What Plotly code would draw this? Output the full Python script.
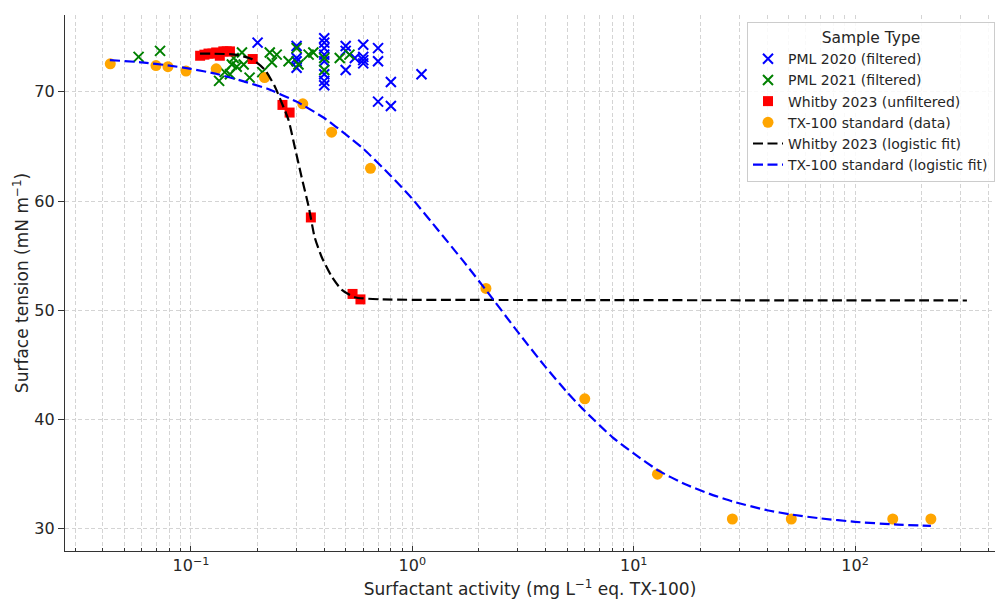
import plotly.graph_objects as go

# ---------------- data ----------------
pml2020_x = [0.2, 0.3, 0.3, 0.3, 0.3, 0.4, 0.4, 0.4, 0.4, 0.4, 0.4, 0.4, 0.4,
             0.5, 0.5, 0.5, 0.55, 0.6, 0.6, 0.6, 0.6, 0.7, 0.7, 0.7, 0.8, 0.8, 1.1]
pml2020_y = [74.5, 74.2, 73.1, 72.8, 72.2, 74.9, 74.5, 74.0, 73.4, 72.8, 71.6, 71.0, 70.6,
             74.2, 73.75, 72.0, 73.1, 74.3, 73.2, 72.9, 72.6, 74.0, 72.8, 69.1, 70.9, 68.7, 71.6]

pml2021_x = [0.058, 0.0725, 0.134, 0.142, 0.150, 0.153, 0.156, 0.161, 0.170, 0.173,
             0.184, 0.21, 0.227, 0.232, 0.244, 0.276, 0.30, 0.306, 0.34, 0.357,
             0.40, 0.40, 0.47, 0.52]
pml2021_y = [73.2, 73.75, 71.0, 71.8, 71.6, 72.5, 73.1, 72.3, 73.6, 72.5,
             71.3, 71.8, 73.6, 72.7, 73.4, 72.8, 74.0, 72.5, 73.4, 73.6,
             73.1, 72.0, 73.1, 73.4]

whitby_x = [0.110, 0.115, 0.120, 0.125, 0.130, 0.135, 0.140, 0.145, 0.150,
            0.19, 0.259, 0.279, 0.348, 0.537, 0.583]
whitby_y = [73.3, 73.4, 73.5, 73.5, 73.6, 73.3, 73.7, 73.7, 73.7,
            73.0, 68.8, 68.1, 58.5, 51.5, 51.0]

tx_x = [0.0432, 0.0695, 0.0787, 0.095, 0.130, 0.215, 0.32, 0.432, 0.647,
        2.15, 6.01, 12.8, 27.9, 51.5, 148, 220]
tx_y = [72.56, 72.4, 72.3, 71.9, 72.1, 71.3, 68.9, 66.3, 63.0,
        52.0, 41.9, 35.0, 30.9, 30.9, 30.9, 30.9]

whitby_fit_x = [0.1098, 0.158, 0.188, 0.216, 0.239, 0.257, 0.276, 0.294, 0.316,
                0.340, 0.362, 0.389, 0.432, 0.479, 0.548, 0.725, 2.0, 320]
whitby_fit_y = [73.5, 73.4, 73.0, 72.0, 70.5, 69.0, 67.4, 65.0, 62.2,
                59.5, 56.7, 54.9, 53.1, 51.9, 51.2, 51.0, 50.95, 50.9]

tx_fit_x = [0.043, 0.06, 0.08, 0.1, 0.13, 0.17, 0.22, 0.3, 0.4, 0.5, 0.6, 0.8,
            1.0, 1.3, 1.7, 2.2, 3.0, 4.0, 5.0, 6.0, 8.0, 10, 13, 17, 22, 28,
            40, 52, 70, 100, 150, 220]
tx_fit_y = [72.9, 72.7, 72.4, 72.1, 71.65, 71.0, 70.3, 69.1, 67.6, 66.1, 64.8, 62.3,
            60.2, 57.4, 54.5, 51.6, 48.0, 44.8, 42.5, 40.8, 38.4, 36.9, 35.3, 34.1, 33.2, 32.5,
            31.7, 31.3, 30.95, 30.64, 30.4, 30.27]

x_tick_vals = [0.1, 1, 10, 100]
x_tick_text = ["10<sup>\u22121</sup>", "10<sup>0</sup>", "10<sup>1</sup>", "10<sup>2</sup>"]
y_tick_vals = [30, 40, 50, 60, 70]

# ---------------- figure ----------------
FONT = "DejaVu Sans"
TXT = "#262626"
fig = go.Figure()

fig.add_trace(go.Scatter(x=pml2020_x, y=pml2020_y, mode="markers", name="PML 2020 (filtered)",
                         legendgroup="a",
                         marker=dict(symbol="x-thin", size=10, color="#0000ff",
                                     line=dict(width=2, color="#0000ff"))))
fig.add_trace(go.Scatter(x=pml2021_x, y=pml2021_y, mode="markers", name="PML 2021 (filtered)",
                         legendgroup="b",
                         marker=dict(symbol="x-thin", size=10, color="#008000",
                                     line=dict(width=2, color="#008000"))))
fig.add_trace(go.Scatter(x=whitby_x, y=whitby_y, mode="markers", name="Whitby 2023 (unfiltered)",
                         legendgroup="c",
                         marker=dict(symbol="square", size=10, color="#ff0000",
                                     line=dict(width=0))))
fig.add_trace(go.Scatter(x=tx_x, y=tx_y, mode="markers", name="TX-100 standard (data)",
                         legendgroup="d",
                         marker=dict(symbol="circle", size=11, color="#ffa500",
                                     line=dict(width=0))))
fig.add_trace(go.Scatter(x=whitby_fit_x, y=whitby_fit_y, mode="lines", name="Whitby 2023 (logistic fit)",
                         legendgroup="e",
                         line=dict(color="#000000", width=2.2, dash="10px,4.5px", shape="spline",
                                   smoothing=0.6)))
fig.add_trace(go.Scatter(x=tx_fit_x, y=tx_fit_y, mode="lines", name="TX-100 standard (logistic fit)",
                         legendgroup="f",
                         line=dict(color="#0000ff", width=2.2, dash="10px,4.5px", shape="spline",
                                   smoothing=0.5)))

minor_vals = []
for dec in [0.01, 0.1, 1, 10, 100]:
    for m in range(2, 10):
        minor_vals.append(dec * m)

grid_col = "#d4d4d4"
grid_dash = "4px,2.5px"
fig.update_xaxes(
    type="log", range=[-1.569, 2.632],
    tickmode="array", tickvals=x_tick_vals, ticktext=x_tick_text,
    ticks="inside", ticklen=5, tickwidth=1, tickcolor="#333333",
    showline=True, linecolor="#333333", linewidth=1.3, mirror=False,
    showgrid=True, gridcolor=grid_col, griddash=grid_dash, gridwidth=0.8,
    minor=dict(tickmode="array", tickvals=minor_vals, ticks="inside", ticklen=3,
               tickcolor="#333333", showgrid=True, gridcolor=grid_col,
               griddash=grid_dash, gridwidth=0.8),
    zeroline=False, automargin=False,
    tickfont=dict(family=FONT, size=16, color=TXT),
    title=dict(text="Surfactant activity (mg L<sup>\u22121</sup> eq. TX-100)",
               font=dict(family=FONT, size=17, color=TXT), standoff=8),
)
fig.update_yaxes(
    range=[27.97, 77.03],
    tickmode="array", tickvals=y_tick_vals,
    ticks="outside", ticklen=6, tickwidth=1, tickcolor="#333333",
    showline=True, linecolor="#333333", linewidth=1.3, mirror=False,
    showgrid=True, gridcolor=grid_col, griddash=grid_dash, gridwidth=0.8,
    zeroline=False, automargin=False,
    tickfont=dict(family=FONT, size=16, color=TXT),
    title=dict(text="Surface tension (mN m<sup>\u22121</sup>)",
               font=dict(family=FONT, size=17, color=TXT), standoff=1),
)

fig.update_layout(
    width=997, height=600,
    margin=dict(l=65, r=2, t=15, b=49),
    plot_bgcolor="white", paper_bgcolor="white",
    font=dict(family=FONT, color=TXT),
    legend=dict(
        x=1.0, xanchor="right", y=0.987, yanchor="top",
        bgcolor="rgba(255,255,255,0.85)", bordercolor="#cccccc", borderwidth=1,
        font=dict(family=FONT, size=14, color=TXT),
        title=dict(text="Sample Type", side="top center",
                   font=dict(family=FONT, size=15.5, color=TXT)),
        traceorder="grouped", tracegroupgap=0,
        itemwidth=30,
    ),
    showlegend=True,
)

fig.write_html("out.html")
